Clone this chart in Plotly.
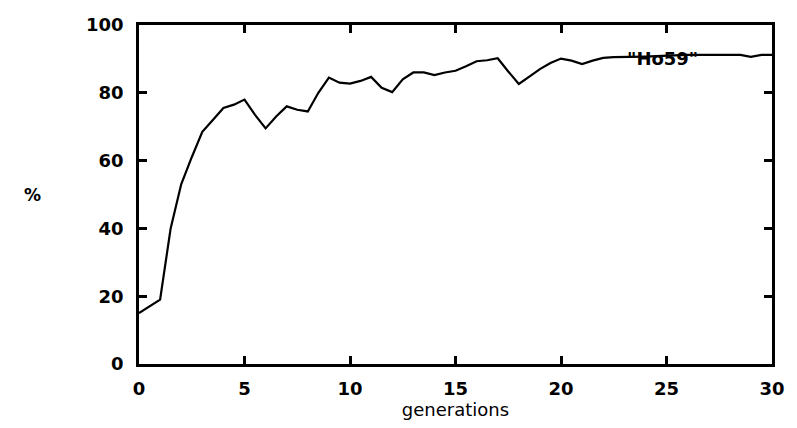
import plotly.graph_objects as go

generations = [0, 0.5, 1, 1.5, 2, 2.5, 3, 3.5, 4, 4.5, 5, 5.5, 6, 6.5, 7, 7.5, 8, 8.5, 9, 9.5,
               10, 10.5, 11, 11.5, 12, 12.5, 13, 13.5, 14, 14.5, 15, 15.5, 16, 16.5, 17, 17.5,
               18, 18.5, 19, 19.5, 20, 20.5, 21, 21.5, 22, 22.5, 23, 23.5, 24, 24.5, 25, 25.5,
               26, 26.5, 27, 27.5, 28, 28.5, 29, 29.5, 30]
percent = [15, 17, 19, 40, 53, 61, 68.5, 72, 75.5, 76.5, 78, 73.5, 69.5, 73, 76, 75, 74.5, 80, 84.5, 83,
           82.7, 83.5, 84.7, 81.5, 80.2, 84, 86, 86, 85.2, 86, 86.5, 87.8, 89.3, 89.6, 90.2, 86.3,
           82.6, 84.8, 87, 88.8, 90.1, 89.5, 88.5, 89.5, 90.3, 90.5, 90.5, 90.5, 90.7, 90.8, 91, 91,
           91.2, 91.2, 91.2, 91.2, 91.2, 91.2, 90.6, 91.2, 91.2]

x_ticks = [0, 5, 10, 15, 20, 25, 30]
y_ticks = [0, 20, 40, 60, 80, 100]
series_name = '"Ho59"'

FONT = "DejaVu Sans"

fig = go.Figure()
fig.add_trace(go.Scatter(x=generations, y=percent, mode="lines",
                         line=dict(color="black", width=2.2), name=series_name,
                         showlegend=False, hoverinfo="skip"))

axis_common = dict(showline=True, linecolor="black", linewidth=2.5, mirror="allticks",
                   ticks="inside", ticklen=8, tickwidth=2.5, tickcolor="black",
                   showgrid=False, zeroline=False,
                   tickfont=dict(family=FONT, size=18, color="black", weight="bold"))

fig.update_xaxes(range=[0, 30], tickvals=x_ticks, ticktext=[str(v) for v in x_ticks],
                 title=dict(text="generations", font=dict(family=FONT, size=18, color="black"),
                            standoff=2),
                 ticklabelstandoff=7, **axis_common)
fig.update_yaxes(range=[0, 100], tickvals=y_ticks, ticktext=[str(v) for v in y_ticks],
                 ticklabelstandoff=9, **axis_common)

fig.add_annotation(text="%", xref="paper", yref="paper", x=0, xshift=-117, y=0.5,
                   showarrow=False, font=dict(family=FONT, size=17, color="black", weight="bold"))
fig.add_annotation(text=series_name, xref="paper", yref="paper", x=0, xshift=700 - 139,
                   y=1, yshift=-(58 - 25), xanchor="right", yanchor="middle", showarrow=False,
                   font=dict(family=FONT, size=18, color="black", weight="bold"))

fig.update_layout(width=797, height=428, margin=dict(l=139, r=16, t=25, b=64),
                  paper_bgcolor="white", plot_bgcolor="white")

fig.write_html("out.html",
               config={"displayModeBar": False},
               post_script="document.body.style.margin='0';"
                           "document.documentElement.style.overflow='hidden';"
                           "document.body.style.overflow='hidden';")
